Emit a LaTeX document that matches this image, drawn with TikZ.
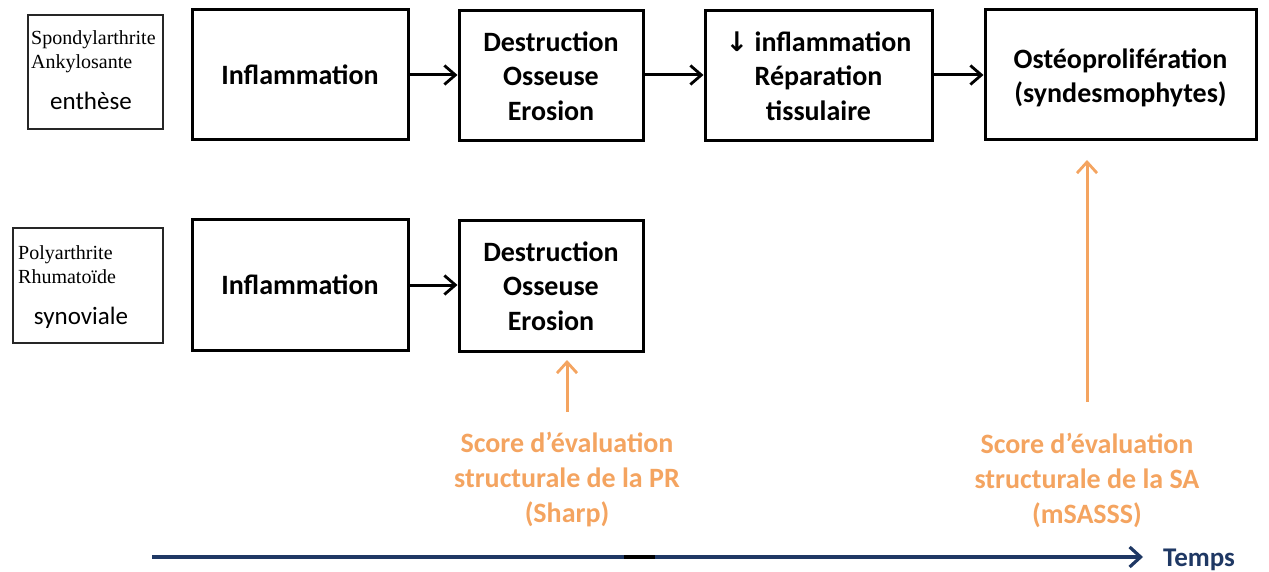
\documentclass[tikz,border=0pt]{standalone}
\usepackage{fontspec}
\setmainfont{Carlito}
\newfontfamily\labfont{Liberation Serif}
\newfontfamily\symfont{DejaVu Sans}
\usetikzlibrary{arrows.meta}
\definecolor{orng}{RGB}{244,164,96}
\definecolor{navy}{RGB}{31,56,100}
\begin{document}
\begin{tikzpicture}[x=1pt,y=-1pt,
  box/.style={draw=black,line width=3pt,align=center,font=\bfseries\fontsize{28}{34.5}\selectfont,minimum height=130pt,inner sep=0pt},
  btxt/.style={align=center,font=\bfseries\fontsize{28}{34.5}\selectfont,inner sep=0pt},
  labbox/.style={draw=black!85,line width=1.8pt,minimum height=114pt,inner sep=0pt},
  labtxt/.style={font=\labfont\fontsize{20}{24}\selectfont,align=left,anchor=west,inner sep=0pt},
  subtxt/.style={font=\fontsize{25}{30}\selectfont,inner sep=0pt},
  conn/.style={line width=3pt,-{Straight Barb[length=11pt,width=19pt,line width=2.8pt]}},
  oconn/.style={draw=orng,line width=3pt,-{Straight Barb[length=11pt,width=20pt,line width=2.8pt]}},
  otxt/.style={text=orng,align=center,font=\bfseries\fontsize{28}{35}\selectfont,inner sep=0pt}]
\useasboundingbox (0,0) rectangle (1269,572);
% label boxes
\node[labbox,minimum width=135pt] (lab1) at (95.5,72) {};
\node[labtxt] (sa) at (31,52) {Spondylarthrite\\Ankylosante};
\node[subtxt] (enth) at (91,101) {enthèse};
\node[labbox,minimum width=150pt,minimum height=115pt] (lab2) at (88,285.5) {};
\node[labtxt] (pr) at (18,265) {Polyarthrite\\Rhumatoïde};
\node[subtxt] (syn) at (81,318) {synoviale};
% row 1
\node[box,minimum width=216pt] (inf1) at (300,75) {Inflammation};
\node[box,minimum width=184pt] (des1) at (551,76) {Destruction\\Osseuse\\Erosion};
\node[box,minimum width=227pt] (rep) at (818.5,76) {{\symfont\bfseries\fontsize{27}{34}\selectfont↓} inflammation\\Réparation\\tissulaire};
\node[box,minimum width=271pt] (ost) at (1120.5,75) {};
\node[btxt] (osttxt) at (1120.5,78) {Ostéoprolifération\\(syndesmophytes)};
% row 2
\node[box,minimum width=216pt] (inf2) at (300,285) {Inflammation};
\node[box,minimum width=184pt] (des2) at (551,286) {Destruction\\Osseuse\\Erosion};
% connectors
\draw[conn] (inf1.east) -- (des1.west |- inf1.east);
\draw[conn] (des1.east |- inf1.east) -- (rep.west |- inf1.east);
\draw[conn] (rep.east |- inf1.east) -- (ost.west |- inf1.east);
\draw[conn] (inf2.east) -- (des2.west |- inf2.east);
% scores
\node[otxt] (s1) at (567,480) {Score d’évaluation\\structurale de la PR\\(Sharp)};
\node[otxt] (s2) at (1087,480) {Score d’évaluation\\structurale de la SA\\(mSASSS)};
\coordinate (s1a) at (567,412);
\coordinate (s1b) at (567,360);
\coordinate (s2a) at (1087,402);
\coordinate (s2b) at (1087,160);
\draw[oconn] (s1a) -- (s1b);
\draw[oconn] (s2a) -- (s2b);
% time axis
\node[text=navy,font=\bfseries\fontsize{27}{30}\selectfont,anchor=west,inner sep=0pt] (temps) at (1163,560) {Temps};
\coordinate (t0) at (152,557);
\coordinate (t1) at (1143,557);
\draw[navy,line width=3.6pt,-{Straight Barb[length=11pt,width=20pt,line width=3.2pt]}] (t0) -- (t1);
\coordinate (k0) at (624,557);
\coordinate (k1) at (655,557);
\draw[black,line width=4pt] (k0) -- (k1);
\end{tikzpicture}
\end{document}
